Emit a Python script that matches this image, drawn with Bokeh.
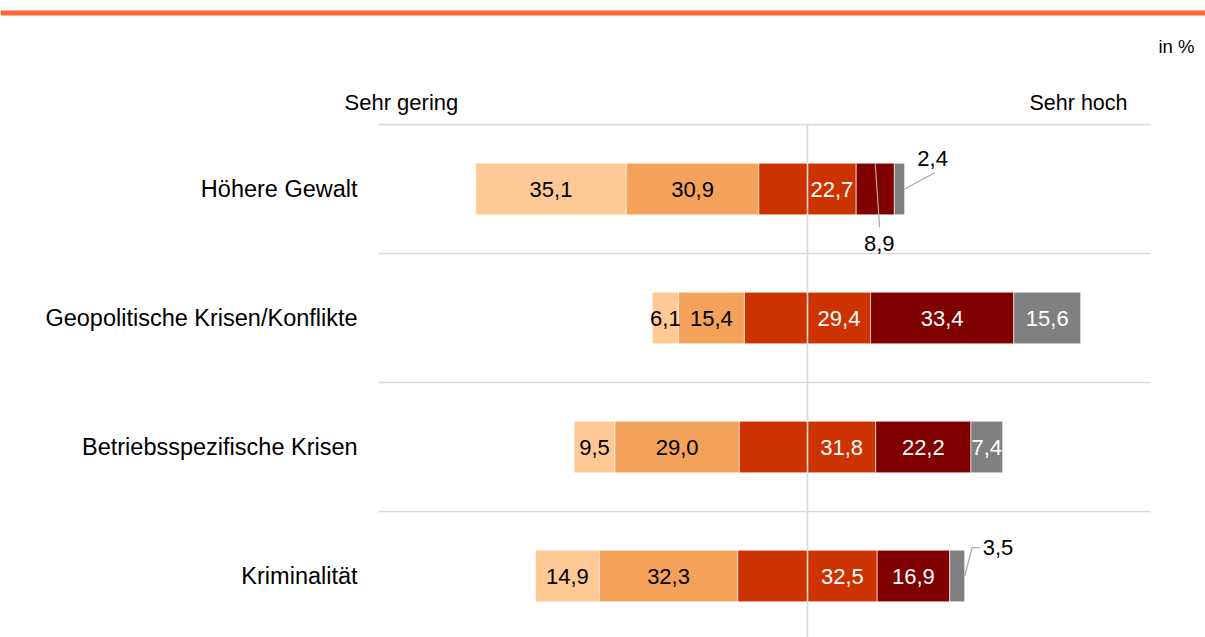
from bokeh.plotting import figure
from bokeh.models import ColumnDataSource, Range1d, Span, Label
from bokeh.core.properties import value
from bokeh.embed import file_html
from bokeh.resources import INLINE

# ---------------- data ----------------
categories = ["Höhere Gewalt", "Geopolitische Krisen/Konflikte",
              "Betriebsspezifische Krisen", "Kriminalität"]
sehr_gering = [35.1, 6.1, 9.5, 14.9]
gering = [30.9, 15.4, 29.0, 32.3]
mittel = [22.7, 29.4, 31.8, 32.5]
hoch = [8.9, 33.4, 22.2, 16.9]
sehr_hoch = [2.4, 15.6, 7.4, 3.5]

# ---------------- style ----------------
COLORS = ["#FFC995", "#F4A25A", "#CC3300", "#CC3300", "#800000", "#808080"]
TEXT_COLORS = ["black", "black", None, "white", "white", "white"]
FONT = "Liberation Sans"
PX_X = 4.289        # pixels per percent
PX_Y = 129.0        # pixels per category band
CENTER_PX = 807     # screen x of the 0 line
TOP_PX = 124        # screen y of the top grid line
AXIS_MIN, AXIS_MAX = -100, 80
GRID_COLOR = "#D9D9D9"

# callouts: (category, segment) -> (anchor, leader path px, text offset px, align)
CALLOUTS = {
    (0, 5): ("end_mid", [(0, 0), (30, 16.3)], (28, 30.5), "center"),
    (0, 4): ("center_top", [(0, 0), (4.3, -64)], (4, -80.5), "center"),
    (3, 5): ("end_mid", [(0, 0), (7.5, 28.3), (15, 28.3)], (18, 28.8), "left"),
}

fmt = lambda v: f"{v:.1f}".replace(".", ",")

n = len(categories)
ys = [n - 0.5 - i for i in range(n)]

seg = dict(y=[], left=[], right=[], color=[])
lab = dict(x=[], y=[], text=[], color=[])
lines_x, lines_y = [], []
clab = dict(x=[], y=[], text=[], align=[])

for i in range(n):
    vals = [sehr_gering[i], gering[i], mittel[i] / 2, mittel[i] / 2, hoch[i], sehr_hoch[i]]
    shown = [sehr_gering[i], gering[i], None, mittel[i], hoch[i], sehr_hoch[i]]
    start = -(sehr_gering[i] + gering[i] + mittel[i] / 2)
    y = ys[i]
    for k, v in enumerate(vals):
        l, r = start, start + v
        seg["y"].append(y); seg["left"].append(l); seg["right"].append(r)
        seg["color"].append(COLORS[k])
        start = r
        if shown[k] is None:
            continue
        if (i, k) in CALLOUTS:
            anchor, path, toff, align = CALLOUTS[(i, k)]
            if anchor == "end_mid":
                ax, ay = r, y
            else:
                ax, ay = (l + r) / 2, y + 0.2
            lines_x.append([ax + dx / PX_X for dx, dy in path])
            lines_y.append([ay + dy / PX_Y for dx, dy in path])
            clab["x"].append(ax + toff[0] / PX_X)
            clab["y"].append(ay + toff[1] / PX_Y)
            clab["text"].append(fmt(shown[k]))
            clab["align"].append(align)
        else:
            lab["x"].append((l + r) / 2); lab["y"].append(y)
            lab["text"].append(fmt(shown[k])); lab["color"].append(TEXT_COLORS[k])

# ranges: whole canvas maps to data
W, H = 1205, 637
x_start = -CENTER_PX / PX_X
x_end = x_start + W / PX_X
y_end = n + TOP_PX / PX_Y
y_start = y_end - H / PX_Y

p = figure(width=W, height=H, output_backend="svg", toolbar_location=None,
           x_range=Range1d(x_start, x_end), y_range=Range1d(y_start, y_end),
           x_axis_location=None, y_axis_location=None, min_border=0,
           outline_line_color=None, background_fill_color="white",
           border_fill_color="white")
p.xgrid.visible = False
p.ygrid.visible = False

# horizontal separators between categories
bounds = list(range(1, n + 1))
p.segment(x0=[AXIS_MIN] * n, x1=[AXIS_MAX] * n, y0=bounds, y1=bounds,
          line_color=GRID_COLOR, line_width=1.3)

p.hbar(y="y", left="left", right="right", height=0.4, fill_color="color",
       line_color="white", line_width=0.6, source=ColumnDataSource(seg))

# vertical zero line on top of bars
p.segment(x0=[0], x1=[0], y0=[n], y1=[y_start], line_color=GRID_COLOR, line_width=1.6)

p.text(x="x", y="y", text="text", text_color="color", source=ColumnDataSource(lab),
       text_font=value(FONT), text_font_size="22px", text_align="center",
       text_baseline="middle")

p.multi_line(xs=lines_x, ys=lines_y, line_color="#A6A6A6", line_width=1.2)
p.text(x="x", y="y", text="text", text_align="align", source=ColumnDataSource(clab),
       text_color="black", text_font=value(FONT), text_font_size="22px",
       text_baseline="middle")

# category labels
p.text(x=[AXIS_MIN - 21 / PX_X] * n, y=ys, text=categories, text_align="right",
       text_baseline="middle", text_font=value(FONT), text_font_size="23.5px",
       text_color="black")

# header texts
p.add_layout(Label(x=(344 - CENTER_PX) / PX_X, y=n + 22.5 / PX_Y, text="Sehr gering",
                   text_font=FONT, text_font_size="22px", text_align="left",
                   text_baseline="alphabetic", text_color="black"))
p.add_layout(Label(x=(1127 - CENTER_PX) / PX_X, y=n + 22 / PX_Y, text="Sehr hoch",
                   text_font=FONT, text_font_size="21.5px", text_align="right",
                   text_baseline="alphabetic", text_color="black"))
p.add_layout(Label(x=(1194 - CENTER_PX) / PX_X, y=n + 78.5 / PX_Y, text="in %",
                   text_font=FONT, text_font_size="18.5px", text_align="right",
                   text_baseline="alphabetic", text_color="black"))

# orange top rule
p.add_layout(Span(location=y_end - 12.5 / PX_Y, dimension="width",
                  line_color="#FF6633", line_width=5))

open("out.html", "w").write(file_html(p, INLINE))
